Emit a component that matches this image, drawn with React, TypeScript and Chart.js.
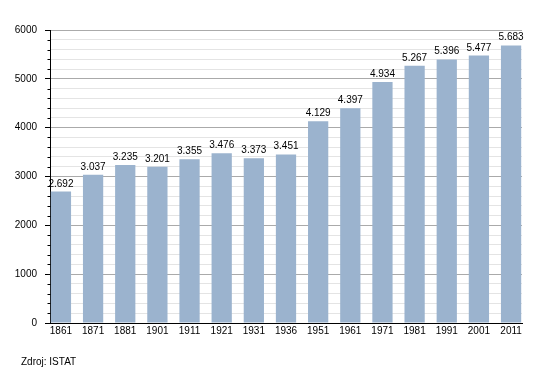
import React, { useEffect, useRef } from "react";
import { Chart, registerables } from "chart.js";

Chart.register(...registerables);

const years = ["1861", "1871", "1881", "1901", "1911", "1921", "1931", "1936", "1951", "1961", "1971", "1981", "1991", "2001", "2011"];
const population = [2692, 3037, 3235, 3201, 3355, 3476, 3373, 3451, 4129, 4397, 4934, 5267, 5396, 5477, 5683];
const sourceText = "Zdroj: ISTAT";

const FONT = "'Liberation Sans', Arial, sans-serif";

function fmt(v: number): string {
  return String(v).replace(/\B(?=(\d{3})+(?!\d))/g, ".");
}

const extrasPlugin = {
  id: "extras",
  afterDatasetsDraw(chart: any) {
    const ctx = chart.ctx;
    const meta = chart.getDatasetMeta(0);
    ctx.save();
    ctx.font = `10px ${FONT}`;
    ctx.fillStyle = "#000";
    ctx.textAlign = "center";
    ctx.textBaseline = "alphabetic";
    meta.data.forEach((bar: any, i: number) => {
      ctx.fillText(fmt(population[i]), bar.x, bar.y - 5);
    });
    ctx.restore();
  },
  afterDraw(chart: any) {
    const ctx = chart.ctx;
    const y = chart.scales.y;
    ctx.save();
    ctx.strokeStyle = "#000";
    ctx.lineWidth = 1;
    const x0 = Math.round(y.right) + 0.5;
    for (let v = 200; v < 6000; v += 200) {
      if (v % 1000 === 0) continue;
      const py = Math.round(y.getPixelForValue(v)) + 0.5;
      ctx.beginPath();
      ctx.moveTo(x0 - 3, py);
      ctx.lineTo(x0, py);
      ctx.stroke();
    }
    ctx.font = `10px ${FONT}`;
    ctx.fillStyle = "#000";
    ctx.textAlign = "left";
    ctx.textBaseline = "alphabetic";
    ctx.fillText(sourceText, 21, 365);
    ctx.restore();
  },
};

export default function App() {
  const ref = useRef<HTMLCanvasElement | null>(null);
  useEffect(() => {
    if (!ref.current) return;
    const chart = new Chart(ref.current, {
      type: "bar",
      data: {
        datasets: [
          {
            data: population.map((v, i) => ({ x: i, y: v })),
            backgroundColor: "rgb(155,179,206)",
            borderWidth: 0,
            barPercentage: 0.63,
            categoryPercentage: 1,
          },
        ],
      },
      plugins: [extrasPlugin],
      options: {
        animation: false,
        responsive: false,
        devicePixelRatio: 1,
        layout: { padding: { top: 30, right: 28, left: 0, bottom: 0 } },
        plugins: { legend: { display: false }, tooltip: { enabled: false }, title: { display: false } },
        scales: {
          x: {
            type: "linear",
            min: -0.34,
            max: 14.34,
            offset: false,
            grid: { display: false, drawTicks: false },
            border: { display: true, color: "#000", width: 1 },
            ticks: {
              stepSize: 1,
              includeBounds: false,
              autoSkip: false,
              maxRotation: 0,
              padding: 2,
              color: "#000",
              font: { family: FONT, size: 10 },
              callback: (v: any) => (Number.isInteger(v) && years[v] !== undefined ? years[v] : ""),
            },
            afterFit: (s: any) => {
              s.height = 50;
            },
          },
          y: {
            min: 0,
            max: 6000,
            grid: {
              color: (c: any) => (c.tick && c.tick.value % 1000 === 0 ? "#aaaaaa" : "#e4e4e4"),
              tickColor: (c: any) => (c.tick && c.tick.value % 1000 === 0 ? "#000" : "rgba(0,0,0,0)"),
              tickLength: 5,
            },
            border: { display: true, color: "#000", width: 1 },
            ticks: {
              stepSize: 200,
              autoSkip: false,
              padding: 8,
              color: "#000",
              font: { family: FONT, size: 10 },
              callback: (v: any) => (v % 1000 === 0 ? String(v) : ""),
            },
            afterFit: (s: any) => {
              s.width = 50;
            },
          },
        },
      },
    });
    return () => chart.destroy();
  }, []);
  return (
    <div style={{ position: "absolute", left: 0, top: 0, width: 550, height: 373, background: "#fff" }}>
      <canvas ref={ref} width={550} height={373} style={{ width: 550, height: 373 }} />
    </div>
  );
}
